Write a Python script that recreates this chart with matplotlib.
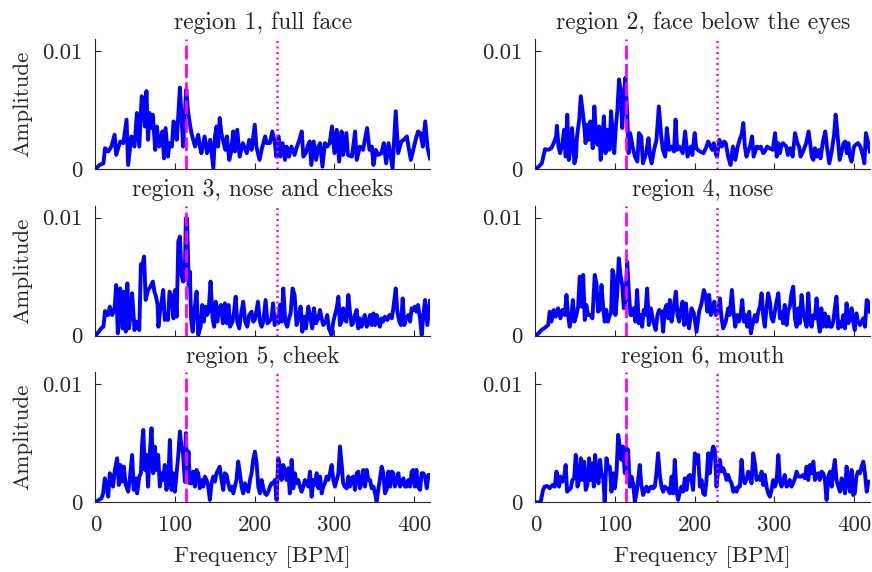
import numpy as np
import matplotlib
matplotlib.use("Agg")
import matplotlib.pyplot as plt

# амплитудные спектры по регионам лица; частота в BPM, амплитуда в единицах 1e-3
titles = ["region 1, full face", "region 2, face below the eyes",
          "region 3, nose and cheeks", "region 4, nose",
          "region 5, cheek", "region 6, mouth"]

hr_bpm = 114       # частота пульса (пунктир)
harm_bpm = 228     # вторая гармоника (точки)

f1 = [0, 5, 10, 12, 16, 20, 24, 26, 31, 35,
      39, 41, 45, 49, 52, 55, 58, 60, 62, 64,
      66, 68, 70, 72, 75, 77, 80, 82, 84, 86,
      88, 91, 93, 96, 98, 100, 102, 104, 106, 108,
      110, 112, 114, 116, 119, 121, 125, 129, 131, 133,
      137, 140, 144, 148, 150, 152, 154, 156, 158, 163,
      165, 168, 170, 173, 175, 178, 181, 185, 190, 193,
      196, 200, 202, 206, 209, 213, 215, 219, 222, 225,
      227, 230, 232, 235, 238, 240, 243, 246, 250, 253,
      256, 259, 261, 264, 267, 269, 271, 274, 277, 280,
      282, 285, 288, 291, 294, 297, 300, 303, 306, 309,
      311, 315, 317, 322, 326, 328, 332, 336, 341, 344,
      347, 349, 352, 355, 359, 362, 365, 368, 371, 373,
      377, 380, 384, 387, 391, 393, 396, 399, 402, 405,
      408, 411, 414, 417, 420]
a1 = [0, 0.34, 0.48, 1.76, 1.48, 1.9, 2.9, 1.2, 2.33, 2.19,
      4.18, 0.34, 2.76, 1.9, 4.74, 1.9, 6.16, 5.88, 3.6, 6.6,
      2.47, 4.74, 3.47, 4.6, 1.62, 3.6, 1.9, 2.47, 3.18, 0.9,
      3.47, 1.05, 2.19, 1.9, 4.03, 3.75, 2.47, 4.6, 6.88, 4.46,
      1.9, 4.46, 6.73, 5.03, 3.6, 2.9, 1.9, 2.9, 1.9, 1.34,
      2.76, 1.34, 2.47, 0.06, 2.76, 3.6, 1.9, 4.32, 3.04, 1.62,
      2.76, 0.77, 1.34, 3.18, 1.48, 3.32, 1.05, 2.19, 1.34, 2.47,
      1.62, 3.75, 1.9, 0.77, 1.76, 2.76, 2.19, 2.19, 3.18, 2.33,
      1.05, 2.76, 1.05, 2.19, 0.77, 1.9, 1.05, 1.9, 1.19, 1.9,
      2.47, 3.18, 1.05, 1.34, 2.05, 2.33, 0.34, 2.33, 0.77, 1.9,
      2.19, 0.2, 2.19, 1.9, 2.19, 3.6, 1.34, 3.32, 0.63, 3.18,
      1.19, 3.04, 1.19, 1.05, 3.18, 0.77, 1.9, 1.62, 3.47, 1.62,
      1.9, 0.34, 1.62, 1.19, 1.34, 2.19, 0.48, 2.19, 0.9, 0.06,
      4.89, 1.34, 2.33, 2.47, 2.76, 1.9, 0.77, 1.62, 2.47, 3.18,
      3.04, 1.9, 4.03, 1.76, 0.9]

f2 = [0, 4, 8, 10, 12, 16, 20, 23, 26, 27,
      29, 31, 34, 36, 38, 40, 42, 44, 46, 49,
      51, 52, 55, 57, 59, 61, 63, 65, 67, 69,
      72, 74, 76, 78, 80, 82, 84, 86, 88, 90,
      93, 95, 97, 99, 101, 103, 105, 107, 109, 111,
      113, 115, 117, 119, 122, 125, 128, 130, 133, 135,
      139, 142, 144, 146, 149, 152, 155, 158, 160, 163,
      165, 168, 171, 174, 176, 178, 181, 185, 188, 191,
      193, 195, 197, 200, 202, 204, 207, 211, 214, 217,
      220, 222, 224, 227, 228, 231, 234, 237, 239, 242,
      245, 248, 251, 254, 257, 259, 261, 263, 265, 267,
      270, 272, 274, 278, 281, 283, 286, 288, 291, 294,
      298, 301, 303, 305, 307, 309, 311, 315, 317, 320,
      323, 326, 329, 331, 333, 336, 340, 343, 345, 347,
      349, 351, 353, 356, 358, 361, 364, 366, 369, 372,
      375, 377, 379, 382, 384, 387, 389, 391, 393, 395,
      397, 400, 402, 405, 408, 411, 413, 415, 417, 420]
a2 = [0, 0.2, 0.48, 1.05, 1.68, 1.62, 1.76, 2.19, 2.76, 3.66,
      1.9, 1.34, 2.19, 3.32, 1.05, 4.6, 0.77, 1.9, 3.47, 0.48,
      1.05, 2.61, 4.18, 6.16, 5.03, 3.89, 2.19, 3.75, 2.47, 4.03,
      1.76, 5.3, 3.04, 2.05, 3.6, 0.77, 2.47, 4.46, 1.34, 3.32,
      1.62, 4.89, 3.04, 1.34, 3.6, 5.03, 7.58, 6.73, 3.47, 5.88,
      7.73, 5.03, 1.34, 3.04, 1.9, 1.05, 0.63, 3.04, 2.76, 0.48,
      1.34, 2.61, 1.05, 0.48, 1.62, 2.47, 5.3, 2.76, 1.62, 1.05,
      3.47, 1.62, 1.9, 1.48, 4.18, 1.62, 1.9, 1.34, 3.18, 1.05,
      1.48, 1.9, 1.19, 3.04, 1.76, 1.62, 1.48, 1.34, 1.76, 2.33,
      1.9, 1.62, 2.19, 1.19, 1.05, 2.47, 1.9, 2.33, 2.19, 1.05,
      0.34, 1.9, 0.77, 1.9, 2.61, 2.9, 3.89, 1.9, 1.05, 1.48,
      2.05, 2.76, 1.05, 1.9, 1.76, 1.9, 1.34, 1.48, 1.9, 1.76,
      1.62, 3.04, 1.05, 2.19, 1.34, 2.05, 2.19, 1.9, 1.19, 1.76,
      1.05, 3.04, 2.19, 1.9, 1.05, 1.48, 2.19, 3.18, 2.19, 1.05,
      0.77, 1.76, 1.05, 1.62, 0.9, 2.33, 3.18, 1.9, 0.48, 1.48,
      2.9, 4.6, 3.18, 0.77, 1.34, 2.19, 2.33, 1.34, 2.19, 1.05,
      0.63, 1.9, 2.05, 2.19, 1.9, 1.19, 0.48, 3.04, 2.47, 1.48]

f3 = [0, 4, 8, 10, 12, 14, 16, 18, 21, 24,
      26, 28, 31, 33, 34, 36, 38, 40, 42, 44,
      46, 49, 51, 52, 55, 57, 59, 61, 63, 66,
      69, 72, 74, 76, 78, 79, 81, 83, 85, 87,
      89, 91, 93, 95, 98, 100, 102, 104, 106, 108,
      110, 112, 113.5, 115, 117, 118.5, 120, 122, 124, 127,
      129, 132, 134, 136, 138, 140, 142, 144.5, 147, 149,
      151, 153, 155, 157.5, 160, 162.5, 165, 167, 169, 172,
      174, 176, 178, 180.5, 182.6, 185.5, 188, 190.6, 193, 196,
      198, 200, 202, 204, 206.5, 208.6, 210.7, 213.6, 216, 218,
      221, 223, 225, 227, 229.5, 231.6, 233.7, 235.8, 238.3, 240.8,
      243, 245, 247.5, 250, 252.5, 254.6, 257.6, 259.7, 261.8, 264.3,
      267.2, 269.3, 272.2, 274.3, 276.8, 279.8, 281.9, 283.9, 286, 289,
      291, 293, 296.5, 298.6, 300.7, 302.8, 305, 307, 309, 311,
      313, 315, 317.5, 319.5, 321.6, 323.7, 325.8, 328, 330, 332,
      334, 336, 338, 340.5, 342.6, 344.7, 346.8, 349, 351, 353,
      355, 357, 359, 361, 363.5, 366.5, 369, 372, 374, 377,
      379, 381.5, 383.6, 385.7, 387.8, 390, 393, 395, 397, 399,
      401, 403, 405, 407.5, 409.6, 411.7, 413.8, 416.7, 420]
a3 = [0, 0.34, 0.68, 0.76, 2.09, 1.75, 1.75, 2.46, 1.75, 2.32,
      4.29, 0.2, 4.0, 2.88, 0.62, 3.73, 0.34, 4.43, 0.62, 1.75,
      3.59, 0.48, 1.19, 1.05, 0.48, 6.05, 5.99, 6.7, 3.02, 3.87,
      4.15, 4.58, 3.73, 3.3, 2.6, 0.76, 2.03, 2.88, 3.87, 1.33,
      1.47, 1.33, 3.73, 3.45, 1.47, 3.87, 1.61, 7.97, 8.39, 5.14,
      4.58, 4.72, 9.94, 9.94, 4.29, 5.42, 1.47, 0.34, 2.03, 3.73,
      0.06, 0.76, 2.6, 1.19, 2.46, 1.75, 2.03, 4.58, 1.47, 0.76,
      2.88, 1.19, 2.32, 2.6, 1.05, 2.74, 1.05, 2.6, 0.76, 1.19,
      2.03, 3.3, 1.19, 0.62, 1.75, 2.88, 1.19, 0.76, 1.75, 2.03,
      1.19, 1.33, 2.03, 2.88, 1.19, 0.76, 1.19, 3.02, 1.05, 1.19,
      1.47, 2.74, 0.9, 1.61, 1.05, 2.6, 1.19, 4.0, 1.19, 0.76,
      1.47, 1.89, 4.0, 3.45, 0.9, 1.47, 2.46, 0.34, 1.61, 0.62,
      2.46, 1.75, 0.62, 2.32, 1.05, 1.47, 2.18, 1.47, 0.9, 1.19,
      1.75, 0.62, 0.06, 1.19, 1.75, 2.32, 3.3, 0.9, 1.19, 2.32,
      1.47, 1.19, 3.45, 2.03, 0.9, 1.05, 1.75, 2.18, 0.62, 1.47,
      0.76, 1.19, 1.75, 0.76, 1.05, 1.75, 0.9, 1.89, 0.9, 1.75,
      1.19, 0.76, 1.47, 1.19, 1.61, 1.33, 1.75, 1.47, 2.32, 4.0,
      2.03, 1.19, 0.9, 3.16, 0.9, 1.47, 1.75, 1.19, 2.32, 2.18,
      2.46, 2.03, 2.6, 1.47, 0.06, 1.75, 3.02, 0.9, 2.94]

f4 = [0, 4, 7.5, 12, 16, 18, 20, 23, 25.5, 28.5,
      31.4, 34, 37, 39, 41, 43, 45, 47, 49, 51.5,
      53.6, 55.7, 57.8, 60, 62, 64, 66, 69, 71.6, 74.5,
      76.6, 78.7, 80.8, 83, 85, 87, 89, 91, 93.4, 95,
      96.7, 98.4, 100.5, 102.6, 104.7, 106.8, 109, 111, 113, 115.2,
      117.3, 119.4, 121.5, 123.5, 125.6, 127.7, 129.8, 132, 134, 136,
      138, 140.3, 142.4, 145, 148, 151, 153.3, 155.4, 158.3, 160.4,
      162.5, 164.6, 166.7, 168.8, 171, 173.8, 176.3, 178.4, 180.5, 182.2,
      184.7, 186.8, 188.9, 191, 193, 196, 199, 202.3, 205.6, 208.6,
      211.5, 213.6, 216, 218.2, 220.3, 222.4, 224.5, 226.6, 229.5, 231.6,
      233.7, 235.8, 239, 242, 244, 246.7, 248.8, 250.9, 253.4, 255.5,
      257.6, 259.7, 261.8, 263.8, 266, 268.5, 270.5, 272.6, 275.6, 277.7,
      279.8, 281.9, 284, 286, 288, 290.2, 292.3, 294.4, 296.5, 298.6,
      302, 305, 307, 309, 311, 313, 315.4, 317.5, 319.5, 321.6,
      323.7, 325.8, 328, 330, 332, 334.2, 336.3, 338.4, 340.5, 342.6,
      344.7, 346.8, 349, 351, 353, 355, 357, 359, 361, 363.5,
      365.6, 367.7, 370, 372, 374, 376, 378, 380.3, 382.4, 384.5,
      386.6, 388.7, 390.7, 392.8, 395, 397, 399, 401, 403, 405,
      407.5, 409.6, 411.7, 413.8, 416, 418, 420]
a4 = [0, 0.2, 0.48, 0.68, 0.9, 2.03, 1.19, 2.18, 1.61, 2.32,
      1.47, 2.18, 1.75, 3.45, 1.75, 0.76, 1.47, 3.02, 1.19, 1.75,
      2.46, 5.0, 2.46, 5.14, 1.33, 2.6, 1.75, 1.75, 1.47, 5.14,
      4.43, 2.03, 2.18, 4.29, 2.46, 1.19, 2.18, 1.19, 1.75, 1.89,
      5.56, 5.14, 1.75, 3.45, 6.55, 5.14, 4.29, 2.32, 2.88, 6.27,
      3.73, 1.75, 1.75, 2.32, 1.19, 3.87, 1.05, 1.75, 0.76, 2.18,
      1.75, 4.0, 0.9, 2.32, 1.19, 0.48, 1.75, 2.18, 2.03, 0.34,
      2.18, 2.6, 1.47, 3.02, 1.19, 2.46, 3.73, 1.75, 1.19, 2.03,
      2.88, 0.9, 2.74, 1.19, 0.62, 2.32, 1.89, 0.34, 2.03, 2.74,
      3.87, 3.45, 2.03, 3.45, 1.75, 2.18, 2.88, 1.75, 2.03, 3.16,
      1.47, 0.62, 1.19, 2.32, 1.75, 3.87, 2.03, 0.76, 1.75, 1.19,
      1.75, 3.02, 1.19, 1.75, 0.76, 2.03, 0.2, 0.9, 1.75, 1.19,
      2.03, 2.46, 3.59, 1.75, 0.76, 2.32, 3.59, 2.88, 1.47, 1.19,
      2.6, 3.59, 1.47, 2.03, 1.05, 2.6, 0.9, 2.18, 2.46, 3.59,
      4.15, 1.47, 0.76, 2.32, 1.05, 3.45, 2.03, 1.33, 0.76, 3.59,
      1.19, 0.76, 1.75, 1.47, 3.16, 1.33, 0.34, 2.32, 0.76, 1.89,
      0.76, 1.61, 0.76, 0.76, 1.19, 2.32, 3.3, 0.62, 1.19, 0.76,
      1.75, 0.62, 2.74, 1.05, 1.47, 2.32, 1.19, 0.48, 1.89, 1.19,
      0.9, 1.19, 1.47, 0.76, 3.02, 2.88, 2.03]

f5 = [0, 4, 7.5, 9.6, 11.7, 13.8, 16, 18, 20, 22,
      24.3, 27.2, 29.3, 31.4, 33.5, 35.6, 38, 41, 43, 46,
      48, 50.7, 52.3, 55, 57, 58.6, 60, 62, 64, 66,
      68.3, 70.4, 72.5, 74.5, 76.6, 78.7, 80.8, 83, 85, 87,
      89, 91.3, 93.4, 95.5, 97.6, 99.7, 101.8, 104, 106, 108,
      110, 112.2, 113.5, 115.2, 116.8, 118.5, 120.6, 122.7, 124.8, 126.9,
      129, 131, 133, 135.3, 137.4, 139.5, 141.6, 143.6, 145.7, 147.8,
      150, 152, 154, 156, 158.3, 160.4, 162.5, 164.6, 166.7, 168.8,
      171, 173, 175, 177, 179.2, 181.3, 183.4, 185.5, 187.6, 189.7,
      191.8, 194, 196, 198, 200.2, 202.3, 204.4, 206.5, 208.6, 210.7,
      212.8, 214.8, 217, 219, 221, 223, 225.3, 227.4, 229.5, 231.6,
      233.7, 235.8, 238, 240, 242, 244, 246.3, 248.4, 250.4, 252.5,
      254.6, 256.7, 258.8, 261, 263, 265, 267.2, 269.3, 271.4, 273.5,
      275.6, 277.7, 279.8, 282, 284, 286, 288, 290.2, 292.3, 294.4,
      296.5, 298.6, 300.7, 302.8, 305, 307, 309, 311, 313, 315.4,
      317.5, 319.5, 321.6, 323.7, 325.8, 328, 330, 332, 334.2, 336.3,
      338.4, 340.5, 342.6, 344.7, 346.8, 349, 351, 353, 355, 357,
      359.3, 361.4, 363.5, 365.6, 367.7, 370, 372, 374, 376, 378,
      380.3, 382.4, 384.5, 386.6, 388.7, 390.7, 392.8, 395, 397, 399,
      401, 403, 405, 407.5, 409.6, 411.7, 413.8, 416, 418, 420]
a5 = [0, 0.2, 0.34, 0.76, 2.03, 1.33, 0.48, 2.46, 2.18, 1.33,
      2.74, 3.73, 1.47, 3.16, 1.75, 3.02, 1.47, 0.9, 1.89, 4.01,
      1.05, 2.03, 0.76, 2.18, 2.46, 5.0, 6.13, 2.74, 4.01, 1.33,
      4.29, 6.27, 2.46, 4.72, 2.74, 4.01, 1.33, 2.46, 1.89, 3.16,
      1.05, 1.61, 5.28, 1.05, 2.46, 0.9, 2.46, 4.01, 5.99, 4.72,
      4.15, 1.75, 5.85, 2.46, 4.29, 1.61, 1.61, 2.6, 1.33, 2.74,
      2.46, 1.19, 1.89, 1.33, 2.18, 1.89, 1.33, 0.2, 1.61, 2.18,
      1.75, 2.46, 2.74, 3.02, 1.89, 1.05, 2.46, 2.32, 1.61, 1.05,
      1.33, 0.76, 1.33, 1.89, 3.45, 2.46, 1.33, 0.76, 1.61, 1.19,
      0.9, 1.89, 2.46, 3.59, 4.29, 3.3, 1.33, 0.76, 1.89, 1.19,
      0.76, 0.62, 0.9, 1.33, 1.61, 1.61, 1.89, 0.2, 3.73, 3.02,
      1.89, 3.16, 2.6, 1.89, 2.88, 0.76, 3.59, 1.19, 2.46, 1.61,
      1.89, 1.33, 0.9, 1.33, 1.89, 1.61, 1.33, 2.6, 0.48, 1.89,
      1.47, 2.46, 1.19, 2.18, 0.76, 1.33, 1.61, 2.18, 1.89, 2.46,
      3.16, 1.89, 1.33, 1.89, 2.46, 4.72, 3.3, 1.61, 1.33, 1.19,
      2.18, 1.33, 2.03, 2.18, 1.05, 2.46, 2.6, 1.19, 1.61, 2.74,
      1.33, 2.74, 1.89, 1.89, 1.19, 1.33, 0.76, 0.06, 1.05, 1.89,
      3.02, 2.46, 0.76, 1.05, 2.6, 1.33, 2.6, 2.46, 1.33, 1.75,
      2.46, 1.33, 1.61, 2.03, 1.33, 1.33, 1.89, 1.33, 2.6, 2.74,
      1.33, 2.74, 1.33, 1.05, 2.46, 2.46, 2.18, 1.19, 2.32, 2.32]

f6 = [0, 4, 6.7, 9.6, 11.7, 14.7, 18, 21.4, 24.3, 26.4,
      28.5, 29.7, 31.4, 34, 35.6, 38, 39.8, 41.9, 44.4, 46.5,
      48.6, 50.7, 52.8, 55, 57, 59, 61, 63.2, 65.3, 67.4,
      69.5, 71.6, 73.3, 75, 77, 79.2, 81.2, 83.3, 85, 87,
      89.2, 91.3, 93.4, 95.5, 97.6, 99.7, 101.8, 103.9, 106, 108,
      110, 112.2, 114.3, 116.4, 118.5, 120.6, 122.7, 124.8, 126.9, 129,
      131, 133, 135.3, 137.4, 139.5, 141.6, 143.6, 145.7, 147.8, 150,
      152, 154, 156, 158.3, 160.4, 162.5, 164.6, 166.7, 168.8, 171,
      173, 175, 177, 179.2, 181.3, 183.4, 185.5, 187.6, 189.7, 191.8,
      194, 196, 198, 200.2, 202.3, 204.4, 206.5, 208.6, 210.7, 212.8,
      214.8, 217, 219, 221, 223.2, 225.3, 227.4, 229.5, 231.6, 233.7,
      235.8, 238, 240, 242, 244, 246.3, 248.4, 250.4, 252.5, 254.6,
      256.7, 258.8, 261, 263, 265, 267.2, 269.3, 271.4, 273.5, 275.6,
      277.7, 279.8, 282, 284, 286, 288, 290.2, 292.3, 294.4, 296.5,
      298.6, 300.7, 302.8, 305, 307, 309, 311, 313, 315.4, 317.5,
      319.5, 321.6, 323.7, 325.8, 328, 330, 332, 334.2, 336.3, 338.4,
      340.5, 342.6, 344.7, 346.8, 349, 351, 353, 355, 357, 359.3,
      361.4, 363.5, 365.6, 367.7, 370, 372, 374, 376, 378, 380.3,
      382.4, 384.5, 386.6, 388.7, 390.7, 392.8, 395, 397, 399, 401,
      403, 405, 407.5, 409.6, 411.7, 413.8, 416, 418, 420]
a6 = [0, 0, 0.06, 1.05, 1.33, 1.38, 1.19, 1.47, 1.33, 2.6,
      2.03, 1.33, 2.18, 1.75, 1.89, 3.16, 0.9, 1.05, 1.19, 1.89,
      2.03, 4.01, 1.33, 1.89, 3.73, 1.89, 3.45, 1.05, 1.47, 3.73,
      1.89, 3.3, 1.33, 4.01, 2.46, 1.61, 3.59, 2.18, 2.32, 0.06,
      3.73, 2.88, 3.02, 0.9, 2.46, 1.19, 2.46, 5.71, 4.72, 3.59,
      4.72, 2.46, 4.58, 4.43, 1.33, 2.18, 1.61, 0.06, 0.76, 1.89,
      3.16, 1.47, 0.62, 1.05, 1.33, 0.9, 1.19, 1.33, 1.19, 1.33,
      2.46, 4.15, 2.46, 1.33, 0.9, 1.33, 1.19, 1.05, 0.76, 2.18,
      0.76, 3.59, 1.05, 0.2, 0.9, 1.33, 0.9, 2.03, 1.05, 2.18,
      2.32, 1.89, 1.05, 4.15, 3.3, 4.01, 1.33, 1.89, 0.76, 0.62,
      1.89, 4.15, 2.46, 4.01, 4.72, 4.43, 1.33, 2.74, 3.59, 2.6,
      2.88, 2.46, 1.89, 2.32, 1.89, 1.61, 0.9, 1.19, 0.9, 1.33,
      1.33, 3.59, 1.89, 1.61, 1.89, 2.6, 2.18, 1.61, 4.15, 3.3,
      1.89, 2.18, 1.89, 2.6, 1.47, 2.32, 1.33, 0.76, 0.48, 1.05,
      1.89, 1.33, 1.75, 4.01, 1.89, 1.33, 1.75, 2.32, 1.33, 1.47,
      1.89, 1.33, 1.61, 2.03, 2.6, 2.18, 2.18, 2.18, 2.32, 2.03,
      3.02, 1.89, 3.16, 2.46, 3.45, 1.89, 2.32, 2.46, 1.89, 2.6,
      2.46, 1.89, 0.2, 2.18, 2.6, 1.33, 2.74, 3.59, 1.89, 1.33,
      0.9, 2.03, 1.47, 0.76, 3.02, 1.61, 0.9, 2.74, 0.62, 0.76,
      2.18, 2.6, 2.46, 3.02, 3.45, 2.46, 0.9, 1.75, 1.75]

freqs = [f1, f2, f3, f4, f5, f6]
amps = [a1, a2, a3, a4, a5, a6]

plt.rcParams["font.family"] = "cmr10"
plt.rcParams["mathtext.fontset"] = "cm"
plt.rcParams["axes.formatter.use_mathtext"] = True

text_color = (0.15, 0.15, 0.15)
fs = 16.5

fig = plt.figure(figsize=(8.72, 5.72), dpi=100)

lefts = [0.1095, 0.614]
bottoms = [0.7045, 0.4131, 0.1218]
width, height = 0.3836, 0.2273

for i in range(6):
    row, col = divmod(i, 2)
    ax = fig.add_axes([lefts[col], bottoms[row], width, height])
    ax.plot(freqs[i], np.array(amps[i]) * 1e-3, color=(0, 0, 1), lw=2.8,
            solid_joinstyle="round", zorder=2)
    ax.axvline(hr_bpm, color=(1, 0, 1), lw=2.0, linestyle=(0, (5, 1.6)), zorder=3)
    ax.axvline(harm_bpm, color=(1, 0, 1), lw=1.8, linestyle=(0, (0.8, 1.4)), zorder=3)

    ax.set_xlim(0, 420)
    ax.set_ylim(0, 0.011)
    ax.set_yticks([0, 0.01])
    ax.set_yticklabels(["0", "0.01"])
    ax.set_xticks([0, 100, 200, 300, 400])
    if row == 2:
        ax.set_xticklabels(["0", "100", "200", "300", "400"])
        ax.set_xlabel("Frequency [BPM]", fontsize=fs, color=text_color, labelpad=8)
    else:
        ax.set_xticklabels([])
    if col == 0:
        ax.set_ylabel("Amplitude", fontsize=fs, color=text_color, labelpad=7)

    ax.set_title(titles[i], fontsize=17, color=text_color, pad=7)
    ax.tick_params(direction="in", length=4, width=0.8, labelsize=fs,
                   colors=text_color, top=False, right=False, pad=9.5)
    for side in ["top", "right"]:
        ax.spines[side].set_visible(False)
    for side in ["left", "bottom"]:
        ax.spines[side].set_color(text_color)
        ax.spines[side].set_linewidth(0.8)

fig.savefig("out.png", dpi=100)
